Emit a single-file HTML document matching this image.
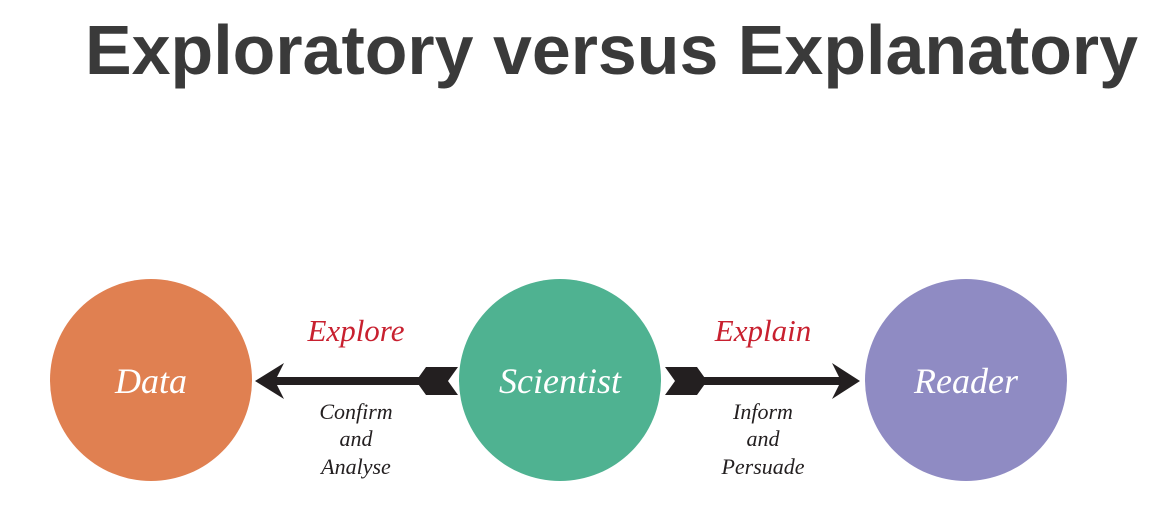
<!DOCTYPE html>
<html><head><meta charset="utf-8"><style>
html,body{margin:0;padding:0;background:#fff;}
svg{display:block;}
</style></head><body>
<svg width="1171" height="519" viewBox="0 0 1171 519" xmlns="http://www.w3.org/2000/svg">
<text x="85" y="74" font-family="Liberation Sans, sans-serif" font-weight="bold" font-size="70" fill="#3a3a3a" textLength="1053" lengthAdjust="spacingAndGlyphs">Exploratory versus Explanatory</text>
<circle cx="151" cy="380" r="101" fill="#e08051"/>
<circle cx="560" cy="380" r="101" fill="#4fb291"/>
<circle cx="966" cy="380" r="101" fill="#8f8bc3"/>
<g font-family="Liberation Serif, serif" font-style="italic" fill="#fff" font-size="36" text-anchor="middle">
<text x="151" y="393">Data</text>
<text x="560" y="393">Scientist</text>
<text x="966" y="393">Reader</text>
</g>
<g fill="#231f20">
<rect x="275" y="377" width="145" height="8"/>
<path d="M255 381 L284 363 L275 381 L284 399 Z"/>
<path d="M416 381 L426 367 L458 367 L448 381 L458 395 L426 395 Z"/>
<rect x="700" y="377" width="145" height="8"/>
<path d="M860 381 L832 363 L841 381 L832 399 Z"/>
<path d="M665 367 L697 367 L707 381 L697 395 L665 395 L675 381 Z"/>
</g>
<g font-family="Liberation Serif, serif" font-style="italic" fill="#c8202f" font-size="31" text-anchor="middle">
<text x="356" y="341">Explore</text>
<text x="763" y="341">Explain</text>
</g>
<g font-family="Liberation Serif, serif" font-style="italic" fill="#231f20" font-size="22" text-anchor="middle">
<text x="356" y="419">Confirm</text>
<text x="356" y="446">and</text>
<text x="356" y="474">Analyse</text>
<text x="763" y="419">Inform</text>
<text x="763" y="446">and</text>
<text x="763" y="474">Persuade</text>
</g>
</svg>
</body></html>
